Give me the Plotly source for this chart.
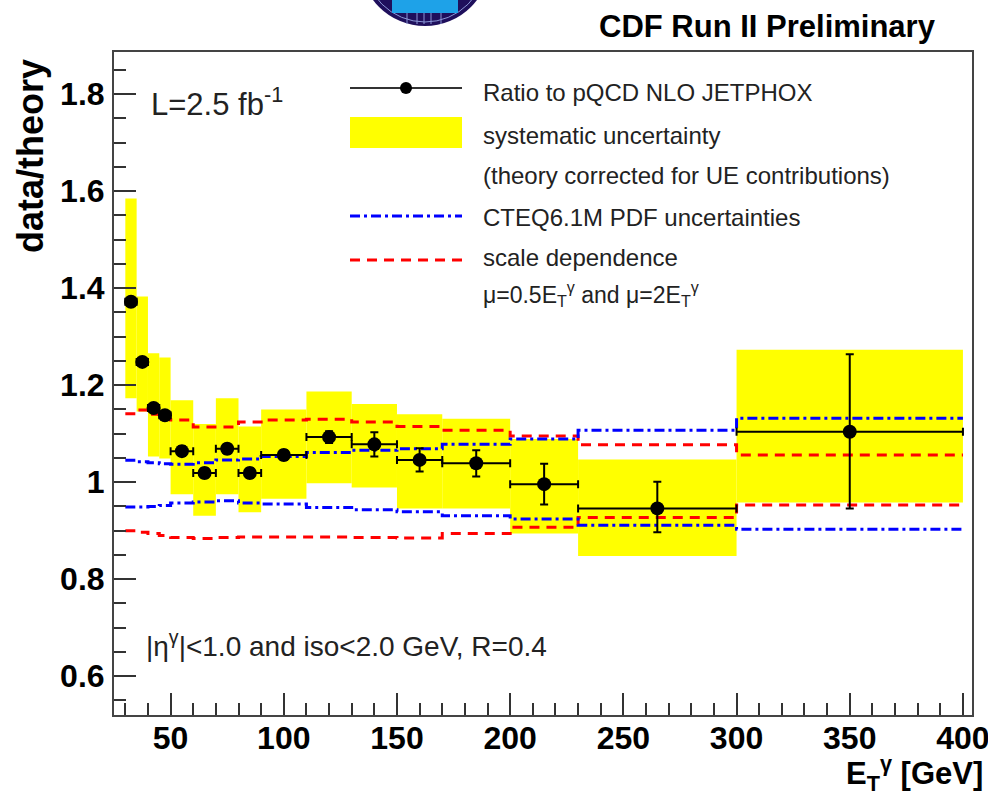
import plotly.graph_objects as go

# ---------------- data ----------------
bin_lo = [30, 35, 40, 45, 50, 60, 70, 80, 90, 110, 130, 150, 170, 200, 230, 300]
bin_hi = [35, 40, 45, 50, 60, 70, 80, 90, 110, 130, 150, 170, 200, 230, 300, 400]
x_center = [32.5, 37.5, 42.5, 47.5, 55, 65, 75, 85, 100, 120, 140, 160, 185, 215, 265, 350]

ratio = [1.372, 1.248, 1.153, 1.138, 1.064, 1.019, 1.069, 1.019, 1.056, 1.093,
         1.078, 1.046, 1.039, 0.996, 0.946, 1.104]
stat_up = [0.008, 0.008, 0.008, 0.008, 0.010, 0.010, 0.010, 0.010, 0.010, 0.012,
           0.025, 0.024, 0.027, 0.042, 0.055, 0.160]
stat_dn = [0.008, 0.008, 0.008, 0.008, 0.010, 0.010, 0.010, 0.010, 0.010, 0.012,
           0.025, 0.024, 0.027, 0.042, 0.049, 0.158]

sys_lo = [1.173, 1.146, 1.053, 1.049, 0.975, 0.931, 0.975, 0.938, 0.966, 0.998,
          0.989, 0.946, 0.946, 0.894, 0.848, 0.958]
sys_hi = [1.585, 1.383, 1.266, 1.257, 1.169, 1.120, 1.173, 1.115, 1.150, 1.187,
          1.161, 1.140, 1.131, 1.089, 1.047, 1.273]

pdf_up = [1.045, 1.042, 1.040, 1.038, 1.037, 1.040, 1.046, 1.048, 1.053, 1.061,
          1.066, 1.069, 1.078, 1.089, 1.107, 1.132]
pdf_dn = [0.949, 0.949, 0.950, 0.952, 0.957, 0.959, 0.962, 0.957, 0.955, 0.948,
          0.943, 0.939, 0.931, 0.924, 0.911, 0.903]
scale_up = [1.141, 1.149, 1.140, 1.130, 1.128, 1.114, 1.114, 1.124, 1.128, 1.130,
            1.124, 1.115, 1.107, 1.095, 1.077, 1.056]
scale_dn = [0.900, 0.897, 0.894, 0.890, 0.886, 0.884, 0.886, 0.887, 0.887, 0.887,
            0.886, 0.885, 0.894, 0.907, 0.927, 0.953]

y_tickvals = [0.6, 0.8, 1.0, 1.2, 1.4, 1.6, 1.8]
y_ticktext = ["0.6", "0.8", "1", "1.2", "1.4", "1.6", "1.8"]
x_tickvals = [50, 100, 150, 200, 250, 300, 350, 400]
x_ticktext = ["50", "100", "150", "200", "250", "300", "350", "400"]

# ---------------- layout helpers ----------------
W, H = 988, 798
L, R, T, B = 114, 972, 52, 715
FONT = "Liberation Sans, Arial, Helvetica, sans-serif"


def px(x):
    return (x - L) / (R - L)


def py(y):
    return (B - y) / (B - T)


fig = go.Figure()

# systematic band (yellow boxes)
fig.add_trace(go.Bar(
    x=x_center,
    y=[h - l for h, l in zip(sys_hi, sys_lo)],
    base=sys_lo,
    width=[h - l for h, l in zip(bin_hi, bin_lo)],
    marker=dict(color="#ffff00", line=dict(width=0)),
    showlegend=False, hoverinfo="skip",
))


def step(vals):
    return bin_lo + [bin_hi[-1]], vals + [vals[-1]]


for vals in (scale_up, scale_dn):
    xs, ys = step(vals)
    fig.add_trace(go.Scatter(x=xs, y=ys, mode="lines", line_shape="hv",
                             line=dict(color="#ff0000", width=3, dash="10px,7px"),
                             showlegend=False, hoverinfo="skip"))
for vals in (pdf_up, pdf_dn):
    xs, ys = step(vals)
    fig.add_trace(go.Scatter(x=xs, y=ys, mode="lines", line_shape="hv",
                             line=dict(color="#0000ff", width=3, dash="10px,4px,3px,4px"),
                             showlegend=False, hoverinfo="skip"))

# data points
fig.add_trace(go.Scatter(
    x=x_center, y=ratio, mode="markers",
    marker=dict(color="black", size=14),
    error_x=dict(type="data", array=[(h - l) / 2 for h, l in zip(bin_hi, bin_lo)],
                 color="black", thickness=2, width=4),
    error_y=dict(type="data", array=stat_up, arrayminus=stat_dn,
                 color="black", thickness=2, width=4),
    showlegend=False, hoverinfo="skip",
))

axis_common = dict(
    showline=True, linecolor="#444", linewidth=2, mirror=True,
    ticks="inside", tickcolor="#333", tickwidth=2, ticklen=22,
    showgrid=False, zeroline=False, ticklabeloverflow="allow", automargin=False,
    tickfont=dict(family=FONT, size=32, color="black", weight="bold"),
)

fig.update_xaxes(range=[25, 404], tickvals=x_tickvals, ticktext=x_ticktext,
                 minor=dict(dtick=10, tick0=0, ticks="inside", ticklen=12,
                            tickcolor="#333", tickwidth=2, showgrid=False),
                 ticklabelstandoff=-6, **axis_common)
fig.update_yaxes(range=[0.52, 1.887], tickvals=y_tickvals, ticktext=y_ticktext,
                 minor=dict(dtick=0.05, tick0=0, ticks="inside", ticklen=12,
                            tickcolor="#333", tickwidth=2, showgrid=False),
                 ticklabelstandoff=1, **axis_common)

shapes = []
ann = []


def text(x, y, s, size, xanchor="left", bold=False, angle=0, color="#222"):
    ann.append(dict(x=px(x), y=py(y), xref="paper", yref="paper", text=s,
                    showarrow=False, xanchor=xanchor, yanchor="middle",
                    textangle=angle, borderpad=0,
                    font=dict(family=FONT, size=size, color=color,
                              weight="bold" if bold else "normal")))


# logo (partially visible, top)
shapes.append(dict(type="circle", xref="paper", yref="paper",
                   x0=px(360), x1=px(490), y0=py(-104), y1=py(26),
                   fillcolor="#1f0f5c", line=dict(width=0), layer="above"))
shapes.append(dict(type="circle", xref="paper", yref="paper",
                   x0=px(364), x1=px(486), y0=py(-100), y1=py(22),
                   line=dict(color="#8a96d6", width=1), layer="above"))
shapes.append(dict(type="rect", xref="paper", yref="paper",
                   x0=px(392), x1=px(458), y0=py(13), y1=py(-10),
                   fillcolor="#1ea2e8", line=dict(width=0), layer="above"))
for lx in (407, 417, 424, 431, 441):
    shapes.append(dict(type="line", xref="paper", yref="paper",
                       x0=px(lx), x1=px(lx), y0=py(13), y1=py(24),
                       line=dict(color="#8a96d6", width=1), layer="above"))

# title
text(767, 27, "CDF Run II Preliminary", 31, xanchor="center", bold=True, color="black")

# axis titles
text(30, 156, "data/theory", 36, xanchor="center", bold=True, angle=-90, color="black")
text(984, 774, "E<sub>T</sub><sup>γ</sup> [GeV]", 31, xanchor="right", bold=True, color="black")

# in-plot labels
text(150, 102, "L=2.5 fb<sup>-1</sup>", 31)
text(145, 644, "|η<sup>γ</sup>|&lt;1.0 and iso&lt;2.0 GeV, R=0.4", 28)

# legend
shapes.append(dict(type="line", xref="paper", yref="paper",
                   x0=px(350), x1=px(462), y0=py(88), y1=py(88),
                   line=dict(color="#333", width=2)))
shapes.append(dict(type="circle", xref="paper", yref="paper",
                   x0=px(400), x1=px(412), y0=py(82), y1=py(94),
                   fillcolor="black", line=dict(width=0)))
shapes.append(dict(type="rect", xref="paper", yref="paper",
                   x0=px(350), x1=px(462), y0=py(148), y1=py(117),
                   fillcolor="#ffff00", line=dict(width=0)))
shapes.append(dict(type="line", xref="paper", yref="paper",
                   x0=px(350), x1=px(462), y0=py(216), y1=py(216),
                   line=dict(color="#0000ff", width=3, dash="10px,4px,3px,4px")))
shapes.append(dict(type="line", xref="paper", yref="paper",
                   x0=px(350), x1=px(462), y0=py(260), y1=py(260),
                   line=dict(color="#ff0000", width=3, dash="10px,7px")))

LX = 482
text(LX, 92, "Ratio to pQCD NLO JETPHOX", 24)
text(LX, 135, "systematic uncertainty", 24)
text(LX, 175, "(theory corrected for UE contributions)", 24)
text(LX, 217, "CTEQ6.1M PDF uncertainties", 24)
text(LX, 257, "scale dependence", 24)
text(LX, 294, "μ=0.5E<sub>T</sub><sup>γ</sup> and μ=2E<sub>T</sub><sup>γ</sup>", 23)

fig.update_layout(
    width=W, height=H,
    margin=dict(l=L, r=W - R, t=T, b=H - B, pad=0, autoexpand=False),
    paper_bgcolor="white", plot_bgcolor="white",
    shapes=shapes, annotations=ann,
    barmode="overlay", showlegend=False,
)

fig.write_html("out.html")
